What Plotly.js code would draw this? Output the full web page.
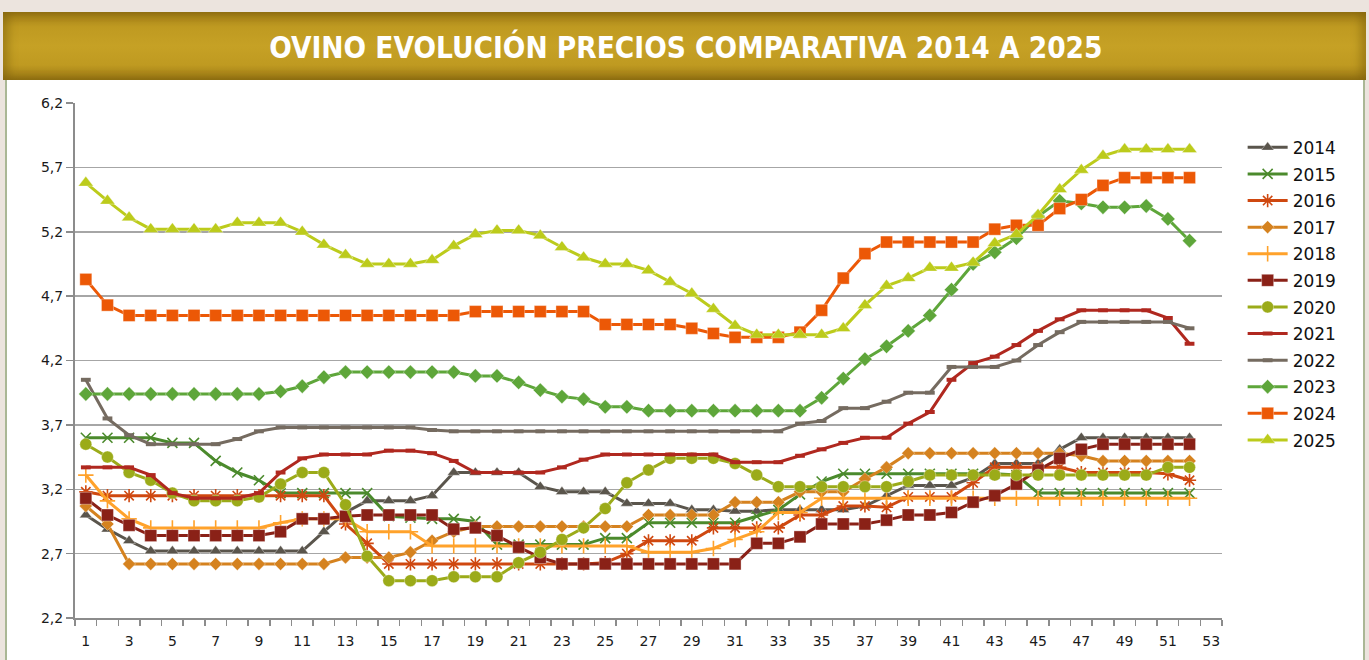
<!DOCTYPE html>
<html>
<head>
<meta charset="utf-8">
<script src="https://cdn.plot.ly/plotly-3.0.1.min.js"></script>
<style>
  html, body { margin: 0; padding: 0; background: #ece4de; }
  #banner {
    position: absolute; left: 3px; top: 12px; width: 1363px; height: 68px;
    background: linear-gradient(to bottom, #9f7c16 0%, #bf9a21 22%, #c6a125 50%, #bf9a21 78%, #9a7815 100%);
    box-shadow: inset 6px 0 8px rgba(120, 90, 10, 0.45), inset -6px 0 8px rgba(120, 90, 10, 0.45);
  }
  #box {
    position: absolute; left: 5px; top: 80px; width: 1356px; height: 600px;
    background: #ffffff; border-left: 2px solid #aab795; border-right: 2px solid #aab795;
  }
  #chart { position: absolute; left: 0; top: 0; width: 1369px; height: 660px; }
</style>
</head>
<body>
<div id="banner"></div>
<div id="box"></div>
<div id="chart"></div>
<script>
// Semanas (categorías del eje X)
const WEEKS = [1, 2, 3, 4, 5, 6, 7, 8, 9, 10, 11, 12, 13, 14, 15, 16, 17, 18, 19, 20, 21, 22, 23, 24, 25, 26,
  27, 28, 29, 30, 31, 32, 33, 34, 35, 36, 37, 38, 39, 40, 41, 42, 43, 44, 45, 46, 47, 48, 49, 50, 51, 52];

const X_TICKS = [1, 3, 5, 7, 9, 11, 13, 15, 17, 19, 21, 23, 25, 27, 29, 31, 33, 35, 37, 39, 41, 43, 45, 47, 49, 51, 53];

// Precios por año (€/kg)
const Y2014 = [3.00, 2.89, 2.80, 2.72, 2.72, 2.72, 2.72, 2.72, 2.72, 2.72, 2.72, 2.87, 3.02, 3.11, 3.11, 3.11, 3.15, 3.33,
  3.33, 3.33, 3.33, 3.22, 3.18, 3.18, 3.18, 3.09, 3.09, 3.09, 3.04, 3.04, 3.03, 3.03, 3.04, 3.04, 3.04, 3.04, 3.07, 3.15,
  3.23, 3.23, 3.23, 3.29, 3.40, 3.40, 3.40, 3.51, 3.60, 3.60, 3.60, 3.60, 3.60, 3.60];
const Y2015 = [3.60, 3.60, 3.60, 3.60, 3.56, 3.56, 3.42, 3.33, 3.27, 3.17, 3.17, 3.17, 3.17, 3.17, 2.99, 2.98, 2.97, 2.97,
  2.95, 2.77, 2.77, 2.77, 2.77, 2.77, 2.82, 2.82, 2.94, 2.94, 2.94, 2.94, 2.94, 2.99, 3.04, 3.16, 3.26, 3.32, 3.32, 3.32,
  3.32, 3.32, 3.32, 3.32, 3.32, 3.31, 3.17, 3.17, 3.17, 3.17, 3.17, 3.17, 3.17, 3.17];
const Y2016 = [3.18, 3.15, 3.15, 3.15, 3.15, 3.15, 3.15, 3.15, 3.15, 3.15, 3.15, 3.15, 2.93, 2.78, 2.62, 2.62, 2.62, 2.62,
  2.62, 2.62, 2.62, 2.62, 2.62, 2.62, 2.63, 2.70, 2.80, 2.80, 2.80, 2.90, 2.90, 2.90, 2.90, 3.00, 3.00, 3.07, 3.07, 3.06,
  3.14, 3.14, 3.14, 3.25, 3.37, 3.37, 3.37, 3.37, 3.33, 3.33, 3.33, 3.33, 3.32, 3.27];
const Y2017 = [3.07, 2.93, 2.62, 2.62, 2.62, 2.62, 2.62, 2.62, 2.62, 2.62, 2.62, 2.62, 2.67, 2.67, 2.67, 2.71, 2.80, 2.87,
  2.91, 2.91, 2.91, 2.91, 2.91, 2.91, 2.91, 2.91, 3.00, 3.00, 3.00, 3.00, 3.10, 3.10, 3.10, 3.18, 3.18, 3.18, 3.28, 3.37,
  3.48, 3.48, 3.48, 3.48, 3.48, 3.48, 3.48, 3.48, 3.46, 3.42, 3.42, 3.42, 3.42, 3.42];
const Y2018 = [3.31, 3.11, 2.97, 2.90, 2.90, 2.90, 2.90, 2.90, 2.90, 2.94, 2.97, 2.97, 2.97, 2.87, 2.87, 2.87, 2.76, 2.76,
  2.76, 2.76, 2.76, 2.76, 2.76, 2.76, 2.76, 2.76, 2.71, 2.71, 2.71, 2.74, 2.81, 2.87, 3.02, 3.02, 3.13, 3.13, 3.13, 3.13,
  3.13, 3.13, 3.13, 3.13, 3.13, 3.13, 3.13, 3.13, 3.13, 3.13, 3.13, 3.13, 3.13, 3.13];
const Y2019 = [3.13, 3.00, 2.92, 2.84, 2.84, 2.84, 2.84, 2.84, 2.84, 2.87, 2.97, 2.97, 2.99, 3.00, 3.00, 3.00, 3.00, 2.89,
  2.90, 2.84, 2.75, 2.67, 2.62, 2.62, 2.62, 2.62, 2.62, 2.62, 2.62, 2.62, 2.62, 2.78, 2.78, 2.83, 2.93, 2.93, 2.93, 2.96,
  3.00, 3.00, 3.02, 3.10, 3.15, 3.24, 3.35, 3.44, 3.51, 3.55, 3.55, 3.55, 3.55, 3.55];
const Y2020 = [3.55, 3.45, 3.33, 3.27, 3.17, 3.11, 3.11, 3.11, 3.14, 3.24, 3.33, 3.33, 3.08, 2.68, 2.49, 2.49, 2.49, 2.52,
  2.52, 2.52, 2.63, 2.71, 2.81, 2.90, 3.05, 3.25, 3.35, 3.44, 3.44, 3.44, 3.40, 3.31, 3.22, 3.22, 3.22, 3.22, 3.22, 3.22,
  3.26, 3.31, 3.31, 3.31, 3.31, 3.31, 3.31, 3.31, 3.31, 3.31, 3.31, 3.31, 3.37, 3.37];
const Y2021 = [3.37, 3.37, 3.37, 3.31, 3.17, 3.13, 3.13, 3.13, 3.17, 3.33, 3.44, 3.47, 3.47, 3.47, 3.50, 3.50, 3.48, 3.42,
  3.33, 3.33, 3.33, 3.33, 3.37, 3.43, 3.47, 3.47, 3.47, 3.47, 3.47, 3.47, 3.41, 3.41, 3.41, 3.46, 3.51, 3.56, 3.60, 3.60,
  3.71, 3.80, 4.05, 4.18, 4.23, 4.32, 4.43, 4.52, 4.59, 4.59, 4.59, 4.59, 4.53, 4.33];
const Y2022 = [4.05, 3.75, 3.62, 3.55, 3.55, 3.55, 3.55, 3.59, 3.65, 3.68, 3.68, 3.68, 3.68, 3.68, 3.68, 3.68, 3.66, 3.65,
  3.65, 3.65, 3.65, 3.65, 3.65, 3.65, 3.65, 3.65, 3.65, 3.65, 3.65, 3.65, 3.65, 3.65, 3.65, 3.71, 3.73, 3.83, 3.83, 3.88,
  3.95, 3.95, 4.15, 4.15, 4.15, 4.20, 4.32, 4.42, 4.50, 4.50, 4.50, 4.50, 4.50, 4.45];
const Y2023 = [3.94, 3.94, 3.94, 3.94, 3.94, 3.94, 3.94, 3.94, 3.94, 3.96, 4.00, 4.07, 4.11, 4.11, 4.11, 4.11, 4.11, 4.11,
  4.08, 4.08, 4.03, 3.97, 3.92, 3.90, 3.84, 3.84, 3.81, 3.81, 3.81, 3.81, 3.81, 3.81, 3.81, 3.81, 3.91, 4.06, 4.21, 4.31,
  4.43, 4.55, 4.75, 4.95, 5.04, 5.15, 5.32, 5.44, 5.42, 5.39, 5.39, 5.40, 5.30, 5.13];
const Y2024 = [4.83, 4.63, 4.55, 4.55, 4.55, 4.55, 4.55, 4.55, 4.55, 4.55, 4.55, 4.55, 4.55, 4.55, 4.55, 4.55, 4.55, 4.55,
  4.58, 4.58, 4.58, 4.58, 4.58, 4.58, 4.48, 4.48, 4.48, 4.48, 4.45, 4.41, 4.38, 4.38, 4.38, 4.42, 4.59, 4.84, 5.03, 5.12,
  5.12, 5.12, 5.12, 5.12, 5.22, 5.25, 5.25, 5.38, 5.45, 5.56, 5.62, 5.62, 5.62, 5.62];
const Y2025 = [5.58, 5.44, 5.31, 5.22, 5.22, 5.22, 5.22, 5.27, 5.27, 5.27, 5.20, 5.10, 5.02, 4.95, 4.95, 4.95, 4.98, 5.09,
  5.18, 5.21, 5.21, 5.17, 5.08, 5.00, 4.95, 4.95, 4.90, 4.81, 4.72, 4.60, 4.47, 4.40, 4.40, 4.40, 4.40, 4.45, 4.63, 4.78,
  4.84, 4.92, 4.92, 4.96, 5.11, 5.18, 5.33, 5.53, 5.68, 5.79, 5.84, 5.84, 5.84, 5.84];

const SERIES = [
  { name: "2014", y: Y2014, color: "#5a554c", symbol: "triangle-up", size: 11 },
  { name: "2015", y: Y2015, color: "#4b8a2c", symbol: "x-thin-open", size: 10 },
  { name: "2016", y: Y2016, color: "#cf4810", symbol: "asterisk-open", size: 11 },
  { name: "2017", y: Y2017, color: "#d5821f", symbol: "diamond", size: 10 },
  { name: "2018", y: Y2018, color: "#ffa22b", symbol: "cross-thin-open", size: 11 },
  { name: "2019", y: Y2019, color: "#8a2117", symbol: "square", size: 12 },
  { name: "2020", y: Y2020, color: "#9bab19", symbol: "circle", size: 12 },
  { name: "2021", y: Y2021, color: "#b0281f", symbol: "line-ew-open", size: 7 },
  { name: "2022", y: Y2022, color: "#756b60", symbol: "line-ew-open", size: 7 },
  { name: "2023", y: Y2023, color: "#5ea63a", symbol: "diamond", size: 11 },
  { name: "2024", y: Y2024, color: "#ec5806", symbol: "square", size: 12 },
  { name: "2025", y: Y2025, color: "#bccb1b", symbol: "triangle-up", size: 13 },
];

const traces = SERIES.map((s) => {
  const open = s.symbol.endsWith("open");
  const dash = s.symbol.startsWith("line-ew");
  return {
    type: "scatter",
    mode: "lines+markers",
    name: s.name,
    legendgroup: s.name,
    x: WEEKS,
    y: s.y,
    line: { color: s.color, width: 3 },
    marker: {
      symbol: s.symbol,
      size: s.size,
      color: s.color,
      line: { color: open ? s.color : "rgba(255,255,255,0.35)", width: dash ? 4 : open ? 1.6 : 1 },
    },
  };
});

const tickFont = { family: "DejaVu Sans, Verdana, sans-serif", size: 14, color: "#1a1a1a" };

const layout = {
  width: 1369,
  height: 660,
  margin: { l: 75, r: 147, t: 103, b: 42 },
  paper_bgcolor: "rgba(0,0,0,0)",
  plot_bgcolor: "rgba(0,0,0,0)",
  separators: ",.",
  showlegend: true,
  title: {
    text: "OVINO EVOLUCIÓN PRECIOS COMPARATIVA 2014 A 2025",
    x: 0.501,
    xref: "container",
    y: 0.928,
    yref: "container",
    yanchor: "middle",
    font: { family: "DejaVu Sans Condensed, DejaVu Sans, sans-serif", weight: "bold", size: 29.5, color: "#ffffff" },
  },
  legend: {
    x: 1.018,
    xanchor: "left",
    y: 0.948,
    yanchor: "top",
    itemwidth: 40,
    tracegroupgap: 1.5,
    font: { family: "DejaVu Sans, Verdana, sans-serif", size: 17, color: "#111" },
    bgcolor: "rgba(0,0,0,0)",
  },
  xaxis: {
    range: [0.5, 53.5],
    tickmode: "array",
    tickvals: X_TICKS,
    ticks: "outside",
    ticklen: 9,
    tickcolor: "rgba(0,0,0,0)",
    tickfont: tickFont,
    showgrid: false,
    zeroline: false,
    showline: true,
    linecolor: "#8c8c8c",
    linewidth: 2,
    minor: { tickmode: "linear", tick0: 0.5, dtick: 1, ticks: "outside", ticklen: 6, tickcolor: "#8c8c8c", tickwidth: 1.5, showgrid: false },
  },
  yaxis: {
    range: [2.2, 6.2],
    dtick: 0.5,
    tick0: 2.2,
    tickformat: ".1f",
    ticks: "outside",
    ticklen: 7,
    tickcolor: "#8c8c8c",
    tickwidth: 1.5,
    tickfont: tickFont,
    showgrid: true,
    gridcolor: "#a6a6a6",
    gridwidth: 1.5,
    zeroline: false,
    showline: true,
    linecolor: "#8c8c8c",
    linewidth: 2,
  },
};

Plotly.newPlot("chart", traces, layout, { displayModeBar: false, staticPlot: true });
</script>
</body>
</html>
